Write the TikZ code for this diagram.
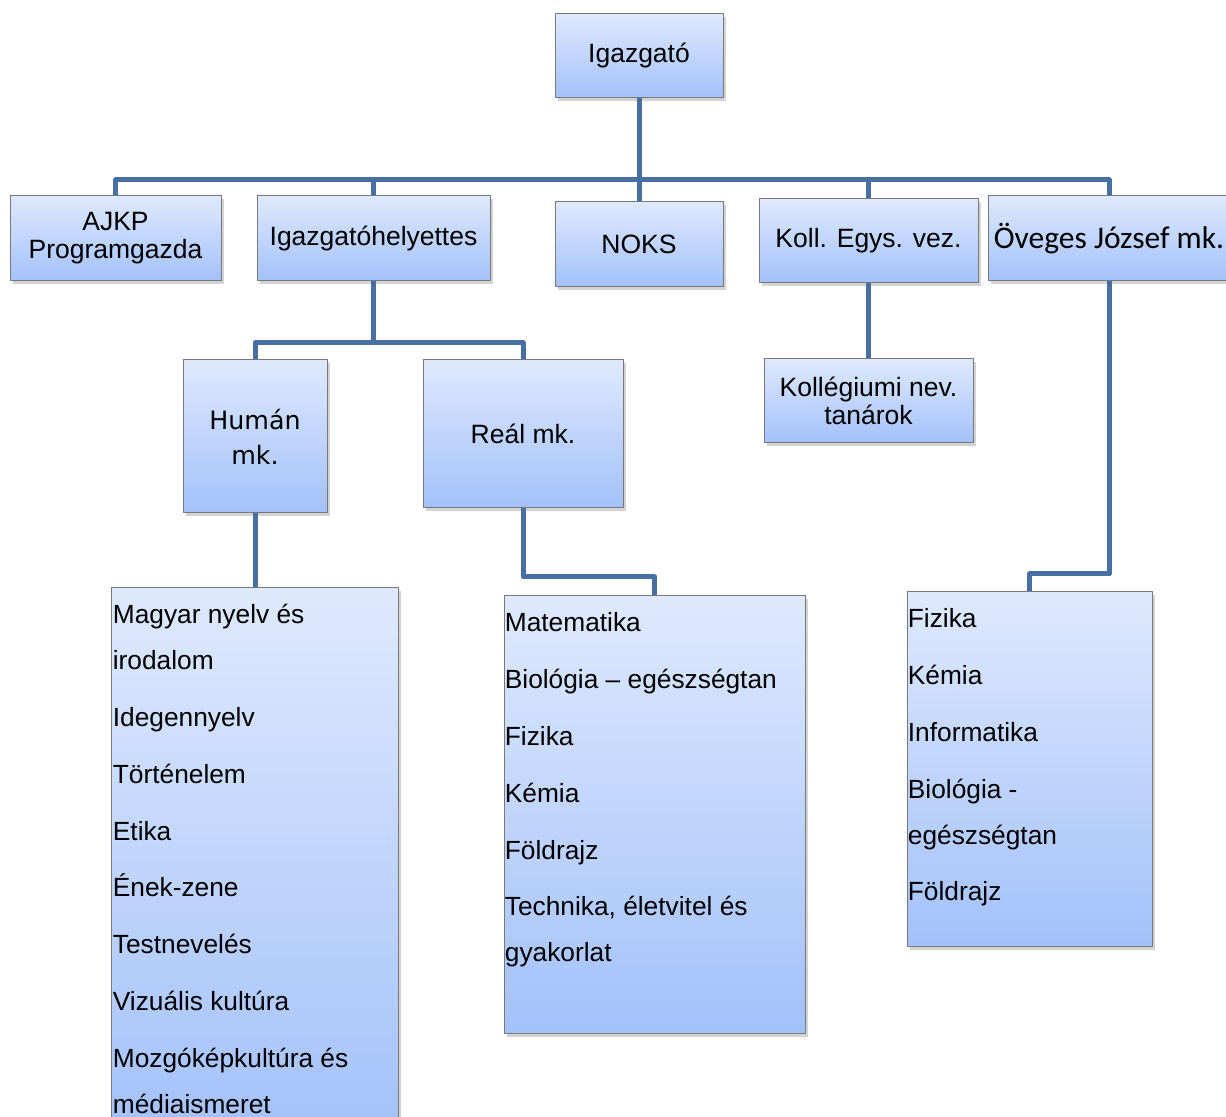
\documentclass[tikz,border=0pt]{standalone}
\usepackage{fontspec}
\setmainfont{Liberation Sans}
\newfontfamily\calibrifont{Carlito}
\newfontfamily\tahomafont{DejaVu Sans}
\usetikzlibrary{shadows}
\definecolor{boxtop}{RGB}{222,233,253}
\definecolor{boxbot}{RGB}{163,193,250}
\definecolor{boxline}{RGB}{120,120,120}
\definecolor{linkcol}{RGB}{71,111,161}

\begin{document}
\begin{tikzpicture}[line join=round,
  unit/.style={draw=boxline,line width=0.5bp,top color=boxtop,bottom color=boxbot,
    drop shadow={opacity=0.35,shadow xshift=1.5bp,shadow yshift=-1.5bp},
    inner sep=0pt,align=center,font=\fontsize{13.3}{14}\selectfont},
  list/.style={anchor=north west,inner sep=0pt,align=left,font=\fontsize{13.2}{23}\selectfont},
  link/.style={draw=linkcol,line width=2.5bp}]
\useasboundingbox (0bp,0bp) rectangle (613bp,558.5bp);

% Node: igazgato
\node[unit,minimum width=84bp,minimum height=42bp] (igazgato) at (319.5bp,530.5bp) {Igazgató};

% Node: ajkp
\node[unit,minimum width=105.5bp,minimum height=42.5bp] (ajkp) at (57.75bp,439.25bp) {AJKP\\Programgazda};

% Node: helyettes
\node[unit,minimum width=116.5bp,minimum height=42.5bp] (helyettes) at (186.75bp,439.25bp) {Igazgatóhelyettes};

% Node: noks
\node[unit,minimum width=84bp,minimum height=42.5bp] (noks) at (319.5bp,436.25bp) {NOKS};

% Node: kollvez
\node[unit,minimum width=109.5bp,minimum height=42bp] (kollvez) at (434.25bp,438bp) {Koll. Egys. vez.};

% Node: oveges
\node[unit,minimum width=121bp,minimum height=42.5bp,font=\calibrifont\fontsize{15.8}{17}\selectfont] (oveges) at (554.5bp,439.25bp) {Öveges József mk.};

% Node: human
\node[unit,minimum width=72bp,minimum height=76.5bp,font=\tahomafont\fontsize{12.7}{17.5}\selectfont] (human) at (127.5bp,340.25bp) {Humán\\mk.};

% Node: real
\node[unit,minimum width=100bp,minimum height=74bp] (real) at (261.5bp,341.5bp) {Reál mk.};

% Node: kollnev
\node[unit,minimum width=104.5bp,minimum height=42bp] (kollnev) at (434.25bp,358bp) {Kollégiumi nev.\\tanárok};

% Node: humlist
\node[unit,minimum width=143.5bp,minimum height=276bp] (humlist) at (127.25bp,126.5bp) {};
\node[list] (humtext) at ([xshift=1bp,yshift=-1.9bp]humlist.north west) {\strut Magyar nyelv és\\irodalom\\[5.5bp]Idegennyelv\\[5.5bp]Történelem\\[5.5bp]Etika\\[5.5bp]Ének-zene\\[5.5bp]Testnevelés\\[5.5bp]Vizuális kultúra\\[5.5bp]Mozgóképkultúra és\\médiaismeret};

% Node: reallist
\node[unit,minimum width=150.5bp,minimum height=219bp] (reallist) at (327.25bp,151bp) {};
\node[list] (realtext) at ([xshift=0.5bp,yshift=-1.9bp]reallist.north west) {\strut Matematika\\[5.5bp]Biológia – egészségtan\\[5.5bp]Fizika\\[5.5bp]Kémia\\[5.5bp]Földrajz\\[5.5bp]Technika, életvitel és\\gyakorlat};

% Node: oveglist
\node[unit,minimum width=122.5bp,minimum height=177.5bp] (oveglist) at (514.75bp,173.75bp) {};
\node[list] (ovegtext) at ([xshift=0.5bp,yshift=-1.9bp]oveglist.north west) {\strut Fizika\\[5.5bp]Kémia\\[5.5bp]Informatika\\[5.5bp]Biológia -\\egészségtan\\[5.5bp]Földrajz};

\coordinate (bus) at (319.5bp,468.5bp);
\coordinate (hsplit) at (186.75bp,387bp);
\coordinate (rsplit) at (261.5bp,270bp);
\coordinate (osplit) at (554.5bp,271.5bp);

% Edge: igazgato -> noks
\draw[link] (igazgato) -- (noks);

% Edge: bus -> ajkp, oveges
\draw[link] (ajkp.north) |- (bus) -| (oveges.north);

% Edge: bus -> helyettes, kollvez
\foreach \n in {helyettes,kollvez}
  \draw[link] (\n.north) -- (\n.north |- bus);

% Edge: helyettes -> human, real
\draw[link] (helyettes.south) -- (hsplit);
\draw[link] (human.north) |- (hsplit) -| (real.north);

% Edge: human -> humlist
\draw[link] (human.south) -- (human.south |- humlist.north);

% Edge: real -> reallist
\draw[link] (real.south) -- (rsplit) -| (reallist.north);

% Edge: kollvez -> kollnev
\draw[link] (kollvez) -- (kollnev);

% Edge: oveges -> oveglist
\draw[link] (oveges.south) -- (osplit) -| (oveglist.north);
%
\end{tikzpicture}
\end{document}
